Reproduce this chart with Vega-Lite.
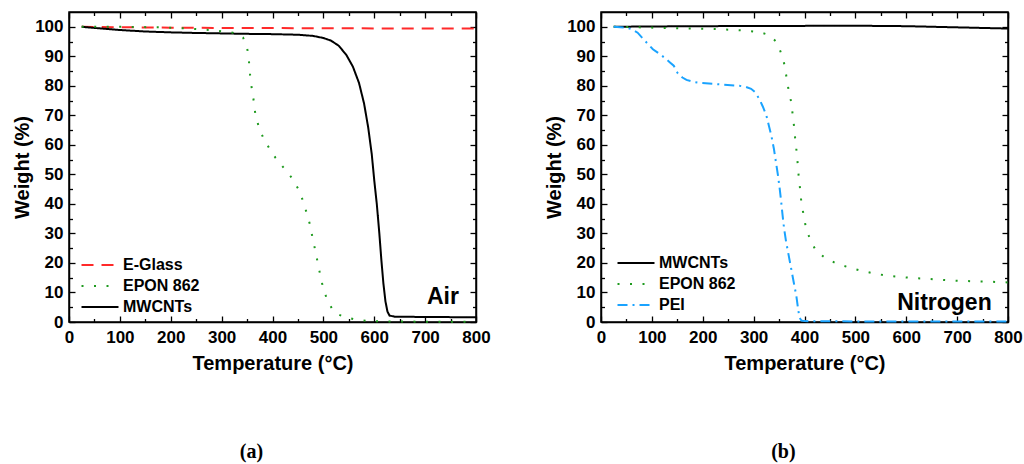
{
  "$schema": "https://vega.github.io/schema/vega-lite/v6.json",
  "padding": {"left": 11, "top": 10, "right": 5, "bottom": 0},
  "background": "white",
  "config": {
    "view": {"stroke": "black", "strokeWidth": 1.5},
    "font": "Liberation Sans",
    "axis": {
      "labelFont": "Liberation Sans", "labelFontWeight": "bold", "labelFontSize": 17, "labelColor": "black", "labelFlush": false,
      "titleFont": "Liberation Sans", "titleFontWeight": "bold", "titleFontSize": 20, "titleColor": "black",
      "domainColor": "black", "domainWidth": 1.5, "tickColor": "black", "tickWidth": 1.3, "grid": false
    },
    "legend": {
      "orient": "none", "padding": 0, "title": null,
      "labelFont": "Liberation Sans", "labelFontWeight": "bold", "labelFontSize": 16, "labelColor": "black",
      "symbolType": "M-3,0H3", "symbolSize": 152, "symbolStrokeWidth": 2, "labelOffset": 15, "rowPadding": 5
    }
  },
  "spacing": 52,
  "resolve": {"scale": {"color": "independent", "strokeDash": "independent"}},
  "hconcat": [
    {
      "width": 407, "height": 310,
      "title": {"text": "(a)", "orient": "bottom", "frame": "bounds", "anchor": "middle", "offset": 69, "font": "Liberation Serif", "fontSize": 20, "fontWeight": "bold", "color": "black"},
      "data": {"values": [
        {"s": "E-Glass", "T": 25, "W": 100}, {"s": "E-Glass", "T": 100, "W": 99.85}, {"s": "E-Glass", "T": 200, "W": 99.7}, {"s": "E-Glass", "T": 300, "W": 99.6}, {"s": "E-Glass", "T": 400, "W": 99.55}, {"s": "E-Glass", "T": 500, "W": 99.5}, {"s": "E-Glass", "T": 600, "W": 99.45}, {"s": "E-Glass", "T": 800, "W": 99.4},
        {"s": "MWCNTs", "T": 25, "W": 100}, {"s": "MWCNTs", "T": 50, "W": 99.6}, {"s": "MWCNTs", "T": 100, "W": 98.9}, {"s": "MWCNTs", "T": 150, "W": 98.4}, {"s": "MWCNTs", "T": 200, "W": 98.1}, {"s": "MWCNTs", "T": 250, "W": 97.9}, {"s": "MWCNTs", "T": 300, "W": 97.75}, {"s": "MWCNTs", "T": 350, "W": 97.6}, {"s": "MWCNTs", "T": 400, "W": 97.5}, {"s": "MWCNTs", "T": 450, "W": 97.3}, {"s": "MWCNTs", "T": 480, "W": 96.9}, {"s": "MWCNTs", "T": 500, "W": 96.2}, {"s": "MWCNTs", "T": 515, "W": 95.3}, {"s": "MWCNTs", "T": 530, "W": 93.6}, {"s": "MWCNTs", "T": 545, "W": 90.5}, {"s": "MWCNTs", "T": 558, "W": 86.5}, {"s": "MWCNTs", "T": 570, "W": 81}, {"s": "MWCNTs", "T": 580, "W": 74}, {"s": "MWCNTs", "T": 588, "W": 66}, {"s": "MWCNTs", "T": 595, "W": 57}, {"s": "MWCNTs", "T": 600, "W": 48}, {"s": "MWCNTs", "T": 605, "W": 40}, {"s": "MWCNTs", "T": 610, "W": 30}, {"s": "MWCNTs", "T": 614, "W": 21}, {"s": "MWCNTs", "T": 618, "W": 13}, {"s": "MWCNTs", "T": 622, "W": 7}, {"s": "MWCNTs", "T": 626, "W": 3.5}, {"s": "MWCNTs", "T": 630, "W": 2.2}, {"s": "MWCNTs", "T": 640, "W": 1.8}, {"s": "MWCNTs", "T": 700, "W": 1.7}, {"s": "MWCNTs", "T": 800, "W": 1.6},
        {"s": "EPON 862", "T": 25, "W": 100}, {"s": "EPON 862", "T": 54, "W": 100}, {"s": "EPON 862", "T": 103, "W": 100}, {"s": "EPON 862", "T": 177, "W": 99.8}, {"s": "EPON 862", "T": 227, "W": 99.5}, {"s": "EPON 862", "T": 253, "W": 99.2}, {"s": "EPON 862", "T": 276, "W": 98.9}, {"s": "EPON 862", "T": 299, "W": 98.5}, {"s": "EPON 862", "T": 322, "W": 98}, {"s": "EPON 862", "T": 335, "W": 97.3}, {"s": "EPON 862", "T": 342, "W": 96.4}, {"s": "EPON 862", "T": 348, "W": 94}, {"s": "EPON 862", "T": 351, "W": 92}, {"s": "EPON 862", "T": 354, "W": 87.8}, {"s": "EPON 862", "T": 356, "W": 83.6}, {"s": "EPON 862", "T": 359, "W": 79.4}, {"s": "EPON 862", "T": 363, "W": 75}, {"s": "EPON 862", "T": 366, "W": 70.8}, {"s": "EPON 862", "T": 372, "W": 66.7}, {"s": "EPON 862", "T": 381, "W": 62.7}, {"s": "EPON 862", "T": 393, "W": 59}, {"s": "EPON 862", "T": 406, "W": 55.6}, {"s": "EPON 862", "T": 422, "W": 52.2}, {"s": "EPON 862", "T": 438, "W": 48.8}, {"s": "EPON 862", "T": 451, "W": 45}, {"s": "EPON 862", "T": 460, "W": 41}, {"s": "EPON 862", "T": 467, "W": 37}, {"s": "EPON 862", "T": 474, "W": 32.8}, {"s": "EPON 862", "T": 479, "W": 28.2}, {"s": "EPON 862", "T": 484, "W": 24.3}, {"s": "EPON 862", "T": 489, "W": 20}, {"s": "EPON 862", "T": 494, "W": 15.8}, {"s": "EPON 862", "T": 499, "W": 11.9}, {"s": "EPON 862", "T": 507, "W": 7.7}, {"s": "EPON 862", "T": 518, "W": 4.2}, {"s": "EPON 862", "T": 530, "W": 2.5}, {"s": "EPON 862", "T": 541, "W": 1.7}, {"s": "EPON 862", "T": 564, "W": 0.8}, {"s": "EPON 862", "T": 590, "W": 0.3}, {"s": "EPON 862", "T": 617, "W": 0.2}, {"s": "EPON 862", "T": 700, "W": 0.1}, {"s": "EPON 862", "T": 800, "W": 0.1}
      ]},
      "layer": [
        {
          "mark": {"type": "line", "strokeWidth": 2},
          "encoding": {
            "x": {"field": "T", "type": "quantitative", "scale": {"domain": [0, 800], "nice": false},
              "axis": {"title": "Temperature (°C)", "values": [0,100,200,300,400,500,600,700,800], "tickSize": -6, "labelPadding": 13, "titlePadding": 8}},
            "y": {"field": "W", "type": "quantitative", "scale": {"domain": [0, 105], "nice": false},
              "axis": {"title": "Weight (%)", "values": [0,10,20,30,40,50,60,70,80,90,100], "tickSize": -6, "labelPadding": 12, "titlePadding": 2}},
            "color": {"field": "s", "type": "nominal", "scale": {"domain": ["E-Glass", "EPON 862", "MWCNTs"], "range": ["#ff2a2a", "#1e9a1e", "#000000"]}, "legend": {"legendX": 23, "legendY": 245}},
            "strokeDash": {"field": "s", "type": "nominal", "scale": {"domain": ["E-Glass", "EPON 862", "MWCNTs"], "range": [[12, 8], [2, 10.5], [1, 0]]}, "legend": {"legendX": 23, "legendY": 245}}
          }
        },
        {
          "data": {"values": [{"T": 735, "W": 8.5, "label": "Air"}]},
          "mark": {"type": "text", "fontSize": 23, "fontWeight": "bold", "font": "Liberation Sans", "color": "black", "align": "center", "baseline": "middle"},
          "encoding": {
            "x": {"field": "T", "type": "quantitative", "axis": null},
            "y": {"field": "W", "type": "quantitative", "axis": null},
            "text": {"field": "label"}
          }
        },
        {
          "mark": {"type": "point", "opacity": 0},
          "encoding": {
            "x": {"field": "T", "type": "quantitative", "axis": {"orient": "top", "title": null, "labels": false, "values": [0,100,200,300,400,500,600,700,800], "tickSize": -6}},
            "y": {"field": "W", "type": "quantitative", "axis": {"orient": "right", "title": null, "labels": false, "values": [0,10,20,30,40,50,60,70,80,90,100], "tickSize": -6}}
          }
        },
        {
          "mark": {"type": "point", "opacity": 0},
          "encoding": {
            "x": {"field": "T", "type": "quantitative", "axis": {"orient": "bottom", "title": null, "labels": false, "domain": false, "values": [50,150,250,350,450,550,650,750], "tickSize": -3.5}},
            "y": {"field": "W", "type": "quantitative", "axis": {"orient": "left", "title": null, "labels": false, "domain": false, "values": [5,15,25,35,45,55,65,75,85,95], "tickSize": -3.5}}
          }
        },
        {
          "mark": {"type": "point", "opacity": 0},
          "encoding": {
            "x": {"field": "T", "type": "quantitative", "axis": {"orient": "top", "title": null, "labels": false, "domain": false, "values": [50,150,250,350,450,550,650,750], "tickSize": -3.5}},
            "y": {"field": "W", "type": "quantitative", "axis": {"orient": "right", "title": null, "labels": false, "domain": false, "values": [5,15,25,35,45,55,65,75,85,95], "tickSize": -3.5}}
          }
        }
      ],
      "resolve": {"axis": {"x": "independent", "y": "independent"}}
    },
    {
      "width": 407, "height": 310,
      "title": {"text": "(b)", "orient": "bottom", "frame": "bounds", "anchor": "middle", "offset": 69, "font": "Liberation Serif", "fontSize": 20, "fontWeight": "bold", "color": "black"},
      "data": {"values": [
        {"s": "MWCNTs", "T": 25, "W": 100}, {"s": "MWCNTs", "T": 100, "W": 100.1}, {"s": "MWCNTs", "T": 200, "W": 100.2}, {"s": "MWCNTs", "T": 300, "W": 100.25}, {"s": "MWCNTs", "T": 400, "W": 100.3}, {"s": "MWCNTs", "T": 500, "W": 100.35}, {"s": "MWCNTs", "T": 600, "W": 100.2}, {"s": "MWCNTs", "T": 650, "W": 100}, {"s": "MWCNTs", "T": 700, "W": 99.8}, {"s": "MWCNTs", "T": 750, "W": 99.6}, {"s": "MWCNTs", "T": 800, "W": 99.4},
        {"s": "EPON 862", "T": 25, "W": 100}, {"s": "EPON 862", "T": 75, "W": 99.8}, {"s": "EPON 862", "T": 128, "W": 99.6}, {"s": "EPON 862", "T": 177, "W": 99.4}, {"s": "EPON 862", "T": 226, "W": 99.2}, {"s": "EPON 862", "T": 251, "W": 99}, {"s": "EPON 862", "T": 276, "W": 98.8}, {"s": "EPON 862", "T": 300, "W": 98.4}, {"s": "EPON 862", "T": 315, "W": 98}, {"s": "EPON 862", "T": 325, "W": 97.5}, {"s": "EPON 862", "T": 335, "W": 96.5}, {"s": "EPON 862", "T": 344, "W": 95}, {"s": "EPON 862", "T": 350, "W": 93}, {"s": "EPON 862", "T": 354, "W": 91}, {"s": "EPON 862", "T": 358, "W": 89}, {"s": "EPON 862", "T": 361, "W": 86.8}, {"s": "EPON 862", "T": 365, "W": 82.5}, {"s": "EPON 862", "T": 369, "W": 78.3}, {"s": "EPON 862", "T": 374, "W": 74.4}, {"s": "EPON 862", "T": 377, "W": 69.8}, {"s": "EPON 862", "T": 380, "W": 65.5}, {"s": "EPON 862", "T": 382, "W": 61.4}, {"s": "EPON 862", "T": 385, "W": 57}, {"s": "EPON 862", "T": 387, "W": 52.7}, {"s": "EPON 862", "T": 389, "W": 48.4}, {"s": "EPON 862", "T": 392, "W": 44.2}, {"s": "EPON 862", "T": 394, "W": 40}, {"s": "EPON 862", "T": 399, "W": 35.7}, {"s": "EPON 862", "T": 403, "W": 31.6}, {"s": "EPON 862", "T": 412, "W": 27.6}, {"s": "EPON 862", "T": 423, "W": 24}, {"s": "EPON 862", "T": 441, "W": 21.7}, {"s": "EPON 862", "T": 464, "W": 19.7}, {"s": "EPON 862", "T": 489, "W": 18.4}, {"s": "EPON 862", "T": 513, "W": 17.3}, {"s": "EPON 862", "T": 538, "W": 16.4}, {"s": "EPON 862", "T": 562, "W": 15.7}, {"s": "EPON 862", "T": 587, "W": 15.3}, {"s": "EPON 862", "T": 611, "W": 14.9}, {"s": "EPON 862", "T": 636, "W": 14.7}, {"s": "EPON 862", "T": 661, "W": 14.4}, {"s": "EPON 862", "T": 685, "W": 14.1}, {"s": "EPON 862", "T": 711, "W": 13.9}, {"s": "EPON 862", "T": 736, "W": 13.8}, {"s": "EPON 862", "T": 761, "W": 13.7}, {"s": "EPON 862", "T": 785, "W": 13.5}, {"s": "EPON 862", "T": 800, "W": 13.4},
        {"s": "PEI", "T": 25, "W": 100}, {"s": "PEI", "T": 49, "W": 99.7}, {"s": "PEI", "T": 60, "W": 99.2}, {"s": "PEI", "T": 72, "W": 98}, {"s": "PEI", "T": 85, "W": 95.5}, {"s": "PEI", "T": 102, "W": 92.4}, {"s": "PEI", "T": 115, "W": 90.8}, {"s": "PEI", "T": 125, "W": 89.5}, {"s": "PEI", "T": 135, "W": 88}, {"s": "PEI", "T": 143, "W": 86.8}, {"s": "PEI", "T": 151, "W": 84.2}, {"s": "PEI", "T": 160, "W": 82.8}, {"s": "PEI", "T": 168, "W": 82}, {"s": "PEI", "T": 180, "W": 81.4}, {"s": "PEI", "T": 194, "W": 81}, {"s": "PEI", "T": 233, "W": 80.5}, {"s": "PEI", "T": 272, "W": 80}, {"s": "PEI", "T": 285, "W": 79.6}, {"s": "PEI", "T": 295, "W": 79}, {"s": "PEI", "T": 303, "W": 77.8}, {"s": "PEI", "T": 311, "W": 75.6}, {"s": "PEI", "T": 318, "W": 73}, {"s": "PEI", "T": 325, "W": 70}, {"s": "PEI", "T": 330, "W": 66.5}, {"s": "PEI", "T": 335, "W": 63}, {"s": "PEI", "T": 340, "W": 58.5}, {"s": "PEI", "T": 344, "W": 54}, {"s": "PEI", "T": 348, "W": 49.5}, {"s": "PEI", "T": 351, "W": 45.5}, {"s": "PEI", "T": 354, "W": 41}, {"s": "PEI", "T": 357, "W": 36}, {"s": "PEI", "T": 360, "W": 31.5}, {"s": "PEI", "T": 364, "W": 27}, {"s": "PEI", "T": 369, "W": 22.5}, {"s": "PEI", "T": 374, "W": 17.9}, {"s": "PEI", "T": 379, "W": 13.3}, {"s": "PEI", "T": 384, "W": 8.8}, {"s": "PEI", "T": 387, "W": 5}, {"s": "PEI", "T": 390, "W": 1.5}, {"s": "PEI", "T": 394, "W": 0.5}, {"s": "PEI", "T": 400, "W": 0.3}, {"s": "PEI", "T": 500, "W": 0.2}, {"s": "PEI", "T": 800, "W": 0.2}
      ]},
      "layer": [
        {
          "mark": {"type": "line", "strokeWidth": 2},
          "encoding": {
            "x": {"field": "T", "type": "quantitative", "scale": {"domain": [0, 800], "nice": false},
              "axis": {"title": "Temperature (°C)", "values": [0,100,200,300,400,500,600,700,800], "tickSize": -6, "labelPadding": 13, "titlePadding": 8}},
            "y": {"field": "W", "type": "quantitative", "scale": {"domain": [0, 105], "nice": false},
              "axis": {"title": "Weight (%)", "values": [0,10,20,30,40,50,60,70,80,90,100], "tickSize": -6, "labelPadding": 12, "titlePadding": 2}},
            "color": {"field": "s", "type": "nominal", "scale": {"domain": ["MWCNTs", "EPON 862", "PEI"], "range": ["#000000", "#1e9a1e", "#1aa3ff"]}, "legend": {"legendX": 27, "legendY": 243}},
            "strokeDash": {"field": "s", "type": "nominal", "scale": {"domain": ["MWCNTs", "EPON 862", "PEI"], "range": [[1, 0], [2, 10.5], [10, 5, 2, 5]]}, "legend": {"legendX": 27, "legendY": 243}}
          }
        },
        {
          "data": {"values": [{"T": 675, "W": 6.5, "label": "Nitrogen"}]},
          "mark": {"type": "text", "fontSize": 23, "fontWeight": "bold", "font": "Liberation Sans", "color": "black", "align": "center", "baseline": "middle"},
          "encoding": {
            "x": {"field": "T", "type": "quantitative", "axis": null},
            "y": {"field": "W", "type": "quantitative", "axis": null},
            "text": {"field": "label"}
          }
        },
        {
          "mark": {"type": "point", "opacity": 0},
          "encoding": {
            "x": {"field": "T", "type": "quantitative", "axis": {"orient": "top", "title": null, "labels": false, "values": [0,100,200,300,400,500,600,700,800], "tickSize": -6}},
            "y": {"field": "W", "type": "quantitative", "axis": {"orient": "right", "title": null, "labels": false, "values": [0,10,20,30,40,50,60,70,80,90,100], "tickSize": -6}}
          }
        },
        {
          "mark": {"type": "point", "opacity": 0},
          "encoding": {
            "x": {"field": "T", "type": "quantitative", "axis": {"orient": "bottom", "title": null, "labels": false, "domain": false, "values": [50,150,250,350,450,550,650,750], "tickSize": -3.5}},
            "y": {"field": "W", "type": "quantitative", "axis": {"orient": "left", "title": null, "labels": false, "domain": false, "values": [5,15,25,35,45,55,65,75,85,95], "tickSize": -3.5}}
          }
        },
        {
          "mark": {"type": "point", "opacity": 0},
          "encoding": {
            "x": {"field": "T", "type": "quantitative", "axis": {"orient": "top", "title": null, "labels": false, "domain": false, "values": [50,150,250,350,450,550,650,750], "tickSize": -3.5}},
            "y": {"field": "W", "type": "quantitative", "axis": {"orient": "right", "title": null, "labels": false, "domain": false, "values": [5,15,25,35,45,55,65,75,85,95], "tickSize": -3.5}}
          }
        }
      ],
      "resolve": {"axis": {"x": "independent", "y": "independent"}}
    }
  ]
}
